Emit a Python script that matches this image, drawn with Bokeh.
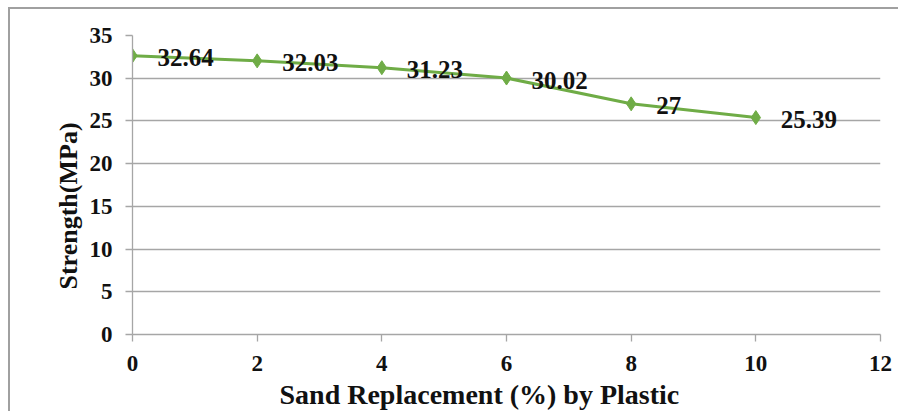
from bokeh.plotting import figure
from bokeh.models import Range1d, FixedTicker, Title
from bokeh.core.properties import value
from bokeh.embed import file_html
from bokeh.resources import INLINE

replacement = [0, 2, 4, 6, 8, 10]
strength = [32.64, 32.03, 31.23, 30.02, 27, 25.39]
labels = ["32.64", "32.03", "31.23", "30.02", "27", "25.39"]
x_ticks = [0, 2, 4, 6, 8, 10, 12]
y_ticks = [0, 5, 10, 15, 20, 25, 30, 35]

FONT = "Liberation Serif"
GREEN = "#6fac46"
GRAY = "#a6a6a6"

p = figure(width=890, height=404, output_backend="svg", toolbar_location=None,
           x_range=Range1d(0, 12), y_range=Range1d(0, 35),
           min_border_left=122, min_border_right=20, min_border_top=26, min_border_bottom=78,
           styles={"margin-left": "8px", "margin-top": "7px",
                   "border-left": "2px solid #a0a0a0", "border-top": "2px solid #a0a0a0"})
p.outline_line_color = None
p.xgrid.grid_line_color = None
p.ygrid.grid_line_color = GRAY
p.ygrid.grid_line_width = 1.3

p.xaxis.ticker = FixedTicker(ticks=x_ticks)
p.yaxis.ticker = FixedTicker(ticks=y_ticks)
for ax in (p.xaxis, p.yaxis):
    ax.axis_line_color = GRAY
    ax.axis_line_width = 1.3
    ax.major_tick_line_color = GRAY
    ax.major_tick_line_width = 1.3
    ax.major_tick_out = 7
    ax.major_tick_in = 0
    ax.minor_tick_line_color = None
    ax.major_label_text_font = FONT
    ax.major_label_text_font_style = "bold"
    ax.major_label_text_font_size = "23px"
    ax.major_label_text_color = "#111111"
p.xaxis.major_label_standoff = 14
p.yaxis.major_label_standoff = 13

xtitle = Title(text="Sand Replacement (%) by Plastic", align="left", offset=147,
               text_font=FONT, text_font_style="bold", text_font_size="28px",
               text_color="#111111", standoff=7)
p.add_layout(xtitle, "below")
ytitle = Title(text="Strength(MPa)", align="left", offset=45,
               text_font=FONT, text_font_style="bold", text_font_size="26px",
               text_color="#111111", standoff=8)
p.add_layout(ytitle, "left")

p.line(replacement, strength, line_color=GREEN, line_width=3)
p.scatter(replacement, strength, marker="diamond", size=14, fill_color=GREEN, line_color=GREEN)
p.text(replacement, strength, text=labels, x_offset=25, y_offset=2,
       text_font=value(FONT), text_font_style="bold", text_font_size="25px",
       text_color="#111111", text_align="left", text_baseline="middle")

open("out.html", "w").write(file_html(p, INLINE))
